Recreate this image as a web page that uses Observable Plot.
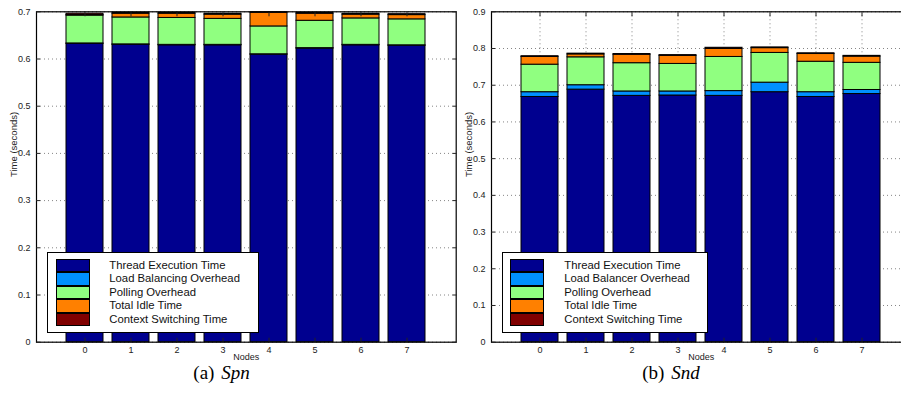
<!DOCTYPE html>
<html>
<head>
<meta charset="utf-8">
<script src="https://cdn.jsdelivr.net/npm/d3@7"></script>
<script src="https://cdn.jsdelivr.net/npm/@observablehq/plot@0.6"></script>
<style>
  html, body { margin: 0; padding: 0; background: #fff; }
  body { width: 901px; height: 394px; overflow: hidden; position: relative; font-family: "Liberation Sans", Arial, Helvetica, sans-serif; }
  .chart { position: absolute; top: 0; width: 466px; height: 394px; }
  .chart svg { max-width: none !important; width: 466px; height: 394px; display: block; }
  .legend { position: absolute; border: 1px solid #000; background: #fff; box-sizing: border-box; font-size: 11.3px; color: #111; }
  .legend .row { position: absolute; height: 13.4px; line-height: 13.4px; white-space: nowrap; }
  .legend .sw { position: absolute; box-sizing: border-box; border: 1px solid #000; width: 34px; height: 13.4px; }
  .caption { position: absolute; top: 364px; font-family: "Liberation Serif", "Times New Roman", serif; font-size: 19px; line-height: 18px; word-spacing: 2px; color: #000; white-space: nowrap; transform: translateX(-50%); }
  .caption i { font-style: italic; }
</style>
</head>
<body>
<div id="left" class="chart" style="left:0px"></div>
<div id="right" class="chart" style="left:455px"></div>
<script>
// ---------- data ----------
const nodes = [0, 1, 2, 3, 4, 5, 6, 7];
const seriesKeys = ["exec", "lb", "poll", "idle", "ctx"];
const seriesColors = ["#00008f", "#0090ff", "#90ff80", "#ff8000", "#800000"];
const legendSpn = ["Thread Execution Time", "Load Balancing Overhead", "Polling Overhead", "Total Idle Time", "Context Switching Time"];
const legendSnd = ["Thread Execution Time", "Load Balancer Overhead", "Polling Overhead", "Total Idle Time", "Context Switching Time"];

// Spn (left)
const spnExec = [0.632, 0.630, 0.629, 0.629, 0.609, 0.622, 0.629, 0.628];
const spnLb   = [0.001, 0.001, 0.001, 0.001, 0.001, 0.001, 0.001, 0.001];
const spnPoll = [0.059, 0.057, 0.057, 0.055, 0.059, 0.058, 0.056, 0.055];
const spnIdle = [0.001, 0.008, 0.009, 0.009, 0.029, 0.015, 0.008, 0.009];
const spnCtx  = [0.003, 0.002, 0.002, 0.002, 0.001, 0.002, 0.002, 0.002];

// Snd (right)
const sndExec = [0.668, 0.688, 0.671, 0.672, 0.671, 0.681, 0.668, 0.676];
const sndLb   = [0.013, 0.012, 0.012, 0.011, 0.013, 0.026, 0.013, 0.011];
const sndPoll = [0.075, 0.076, 0.077, 0.075, 0.093, 0.081, 0.083, 0.074];
const sndIdle = [0.021, 0.008, 0.023, 0.022, 0.022, 0.013, 0.021, 0.017];
const sndCtx  = [0.002, 0.002, 0.002, 0.002, 0.003, 0.002, 0.002, 0.002];

const yTicksSpn = [0, 0.1, 0.2, 0.3, 0.4, 0.5, 0.6, 0.7];
const yTicksSnd = [0, 0.1, 0.2, 0.3, 0.4, 0.5, 0.6, 0.7, 0.8, 0.9];

const xLabel = "Nodes";
const yLabel = "Time (seconds)";
// ---------- end data ----------

function table(arrays) {
  const rows = [];
  seriesKeys.forEach((k, s) => nodes.forEach((n, i) => rows.push({node: n, series: k, value: arrays[s][i]})));
  return rows;
}

const fmt = d => d === 0 ? "0" : d3.format(".1f")(d);
const gridStyle = {stroke: "#666", strokeOpacity: 1, strokeWidth: 0.8, strokeDasharray: "1,3"};

function chart(rows, yTicks, yMax) {
  return Plot.plot({
    width: 466, height: 394,
    marginLeft: 36, marginRight: 10.3, marginTop: 11.3, marginBottom: 52.3,
    x: {type: "band", domain: nodes, paddingInner: 0.19, paddingOuter: 0.595, align: 0.5, label: null},
    y: {domain: [0, yMax], label: null},
    color: {domain: seriesKeys, range: seriesColors},
    style: {fontFamily: "'Liberation Sans', Arial, Helvetica, sans-serif", fontSize: "9px", color: "#222", background: "transparent", overflow: "visible"},
    marks: [
      Plot.gridY(yTicks, gridStyle),
      Plot.gridX(nodes, gridStyle),
      Plot.barY(rows, {x: "node", y: "value", fill: "series", stroke: "#000", strokeWidth: 1}),
      Plot.frame({stroke: "#000", strokeWidth: 1.2}),
      Plot.axisY(yTicks, {tickSize: 0, tickPadding: 6, tickFormat: fmt, label: null}),
      Plot.axisY(yTicks, {tickSize: -4, tickFormat: () => "", label: null}),
      Plot.axisY(yTicks, {anchor: "right", tickSize: -4, tickFormat: () => "", label: null}),
      Plot.axisX(nodes, {tickSize: 0, tickPadding: 4, label: null}),
      Plot.axisX(nodes, {tickSize: -4, tickFormat: () => "", label: null}),
      Plot.axisX(nodes, {anchor: "top", tickSize: -4, tickFormat: () => "", label: null}),
      Plot.text([yLabel], {frameAnchor: "left", rotate: -90, dx: -23, fontSize: 9.5, fill: "#222"}),
      Plot.text([xLabel], {frameAnchor: "bottom", dy: 17.5, fontSize: 9, fill: "#222"})
    ]
  });
}

document.getElementById("left").append(chart(table([spnExec, spnLb, spnPoll, spnIdle, spnCtx]), yTicksSpn, 0.7));
document.getElementById("right").append(chart(table([sndExec, sndLb, sndPoll, sndIdle, sndCtx]), yTicksSnd, 0.9));

function legend(names, left, width, swLeft, textLeft) {
  const box = document.createElement("div");
  box.className = "legend";
  Object.assign(box.style, {left: left + "px", top: "252.3px", width: width + "px", height: "80.4px"});
  names.forEach((name, i) => {
    const sw = document.createElement("div");
    sw.className = "sw";
    Object.assign(sw.style, {left: swLeft + "px", top: (5.7 + i * 13.4) + "px", background: seriesColors[i]});
    box.append(sw);
    const row = document.createElement("div");
    row.className = "row";
    Object.assign(row.style, {left: textLeft + "px", top: (5.7 + i * 13.4) + "px"});
    row.textContent = name;
    box.append(row);
  });
  document.body.append(box);
}
legend(legendSpn, 46.7, 212.3, 8, 61.6);
legend(legendSnd, 501.7, 206, 7.3, 61.6);

function caption(letter, name, cx) {
  const c = document.createElement("div");
  c.className = "caption";
  c.style.left = cx + "px";
  c.innerHTML = "(" + letter + ") <i>" + name + "</i>";
  document.body.append(c);
}
caption("a", "Spn", 221.5);
caption("b", "Snd", 671);
</script>
</body>
</html>
